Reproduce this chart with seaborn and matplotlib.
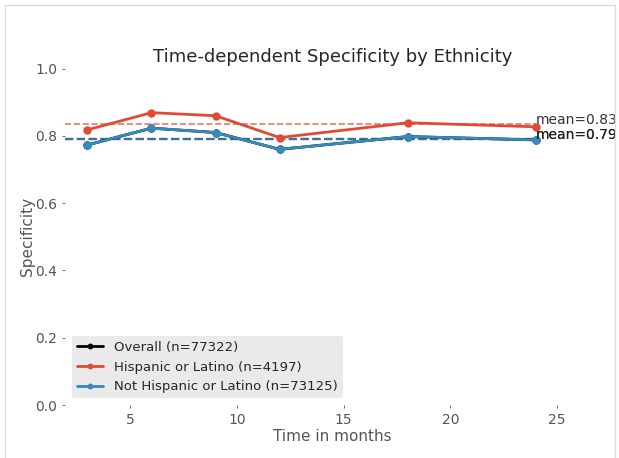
import matplotlib
matplotlib.use("Agg")
import matplotlib.pyplot as plt
import seaborn as sns
import pandas as pd
import numpy as np

months = [3, 6, 9, 12, 18, 24]
overall = [0.773, 0.823, 0.810, 0.760, 0.798, 0.788]
hispanic = [0.818, 0.869, 0.860, 0.795, 0.839, 0.827]
not_hispanic = [0.773, 0.823, 0.810, 0.760, 0.798, 0.788]
labels = ["Overall (n=77322)", "Hispanic or Latino (n=4197)", "Not Hispanic or Latino (n=73125)"]
colors = ["black", "#E24A33", "#348ABD"]

series = [overall, hispanic, not_hispanic]
df = pd.DataFrame({
    "month": months * 3,
    "spec": overall + hispanic + not_hispanic,
    "group": sum([[l] * len(months) for l in labels], []),
})

sns.set_style("white")
plt.rcParams["font.family"] = ["DejaVu Sans"]

fig = plt.figure(figsize=(6.19, 4.58), dpi=100)
ax = fig.add_axes([0.105, 0.1157, 0.864, 0.7345])
ax.set_xlim(1.95, 27)
ax.set_ylim(0, 1.0)

sns.lineplot(data=df, x="month", y="spec", hue="group", hue_order=labels,
             palette=dict(zip(labels, colors)), marker="o", markersize=6,
             markeredgewidth=0, linewidth=2, ax=ax, clip_on=False)

xmin = ax.get_xlim()[0]
text_colors = ["#111111", "#333333", "#222222"]
for vals, c, a, lw, tc in zip(series, colors, [0.75, 0.75, 0.7], [1.6, 1.2, 1.6], text_colors):
    m = float(np.mean(vals))
    ax.hlines(m, xmin, months[-1], colors=c, linestyles="--", linewidth=lw, alpha=a, zorder=1)
    ax.text(months[-1], m, "mean=%.2f" % m, color=tc, fontsize=10, ha="left", va="baseline")

ax.set_title("Time-dependent Specificity by Ethnicity", fontsize=13, pad=5)
ax.set_xlabel("Time in months", fontsize=11, color="#555555", labelpad=2)
ax.set_ylabel("Specificity", fontsize=11, color="#555555", labelpad=0)
ax.set_yticks([0.0, 0.2, 0.4, 0.6, 0.8, 1.0])
ax.set_xticks([5, 10, 15, 20, 25])
ax.tick_params(axis="both", colors="#555555", labelsize=10, length=2, width=0.6, direction="out", bottom=True, left=True)
ax.tick_params(axis="both", labelcolor="#555555")
for s in ax.spines.values():
    s.set_visible(False)

leg = ax.legend(loc="lower left", facecolor="#E5E5E5", frameon=True, fontsize=9.5, handlelength=2,
                markerscale=0.7)
leg.get_frame().set_edgecolor("none")

fig.patches.append(plt.Rectangle((0.008, -0.01), 0.985, 0.998, transform=fig.transFigure,
                                 fill=False, edgecolor="#DDDDDD", linewidth=1))
fig.savefig("out.png", dpi=100)
